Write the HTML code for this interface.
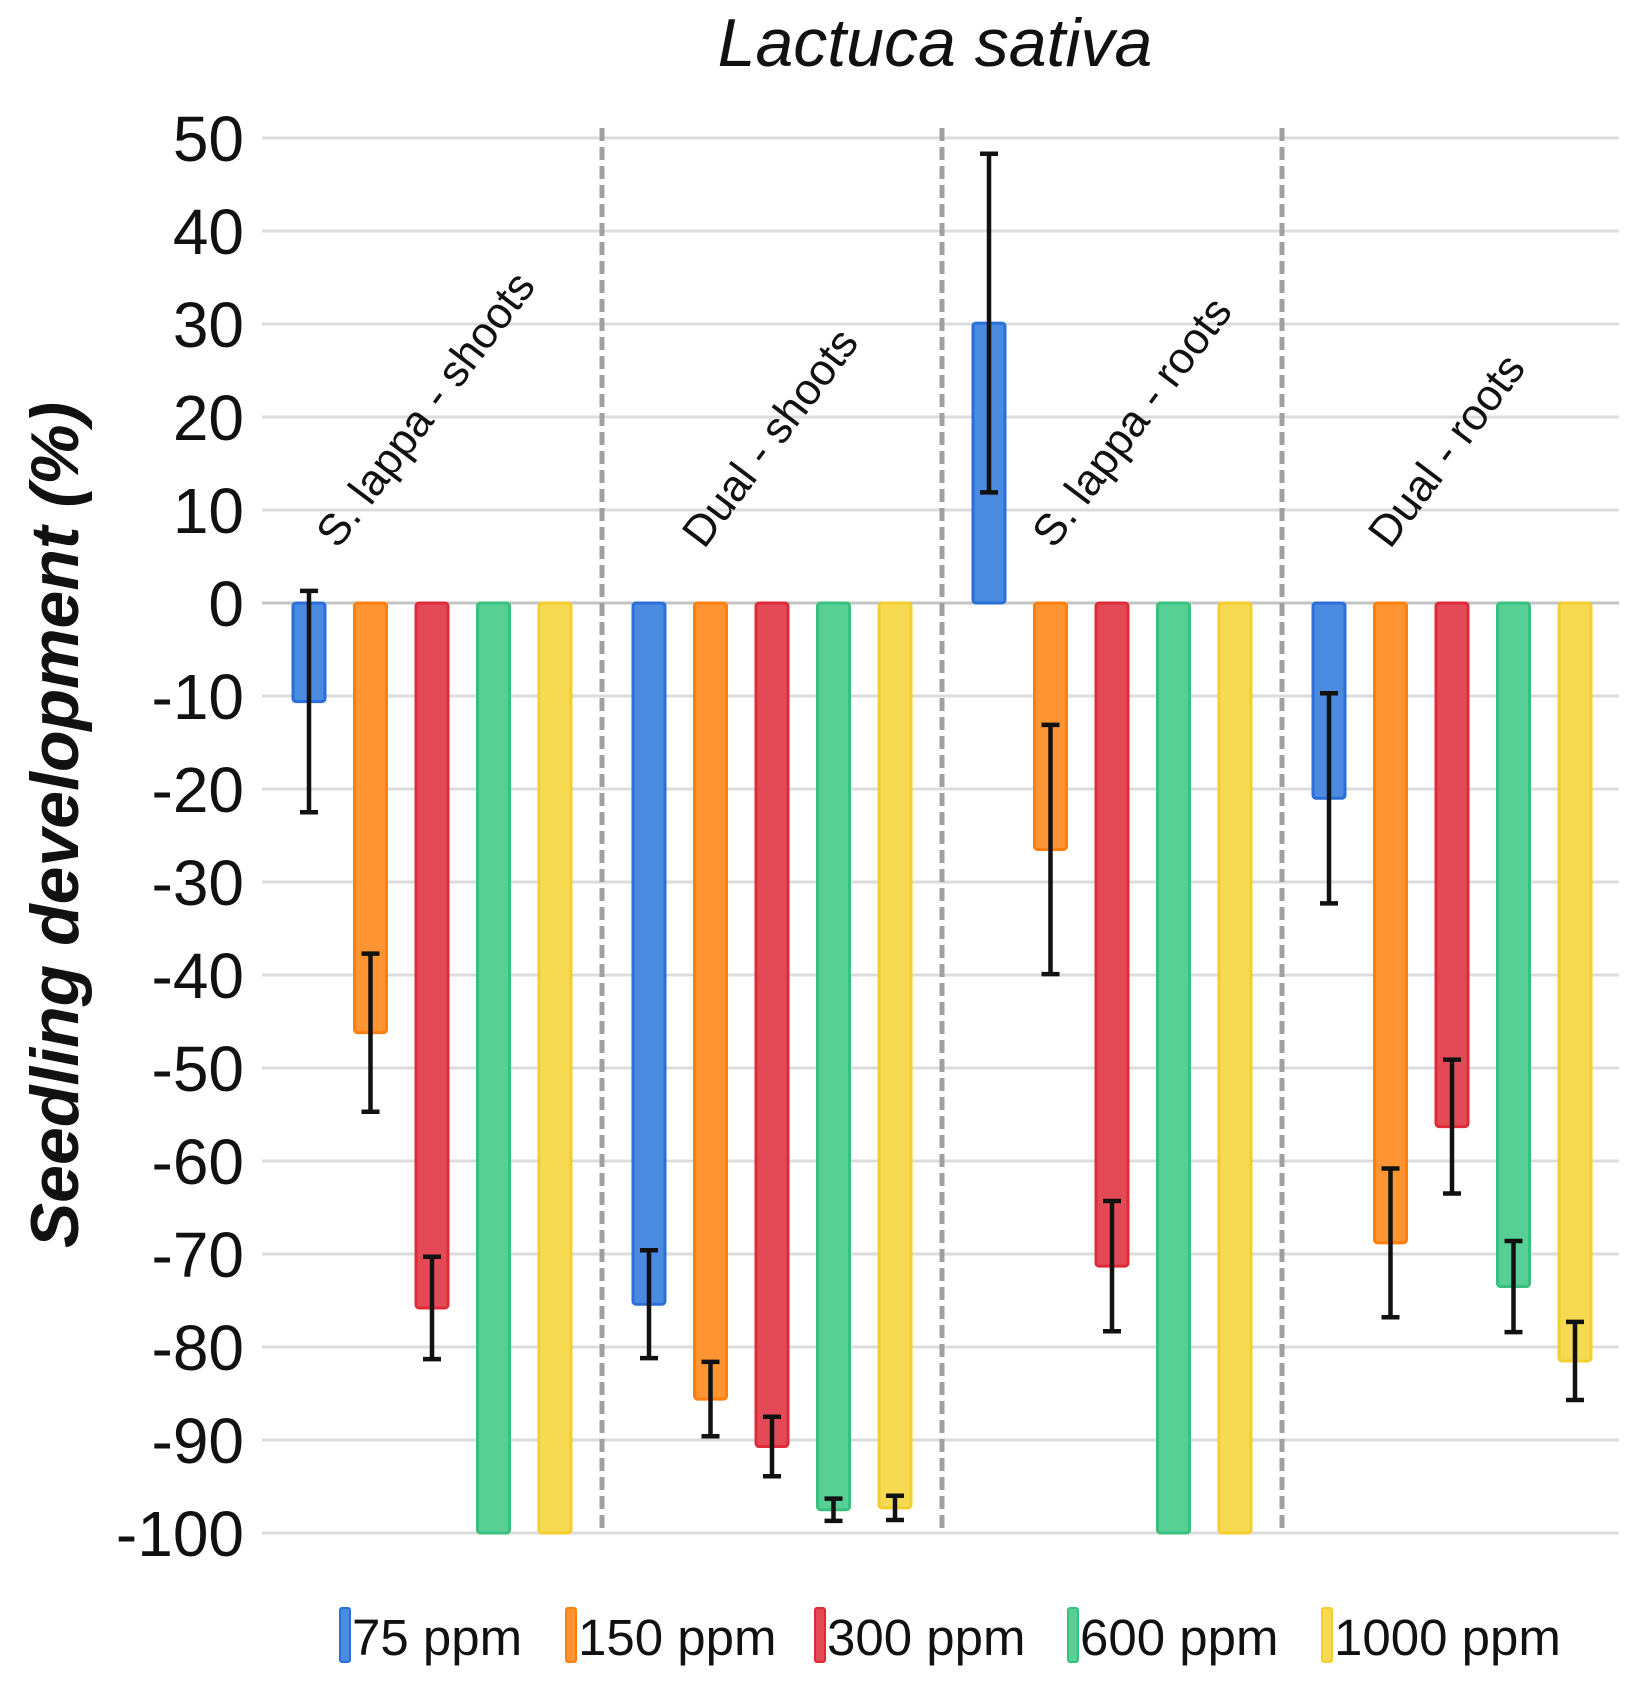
<!DOCTYPE html>
<html><head><meta charset="utf-8"><style>
html,body{margin:0;padding:0;background:#fff;}
svg{display:block;font-family:"Liberation Sans",Arial,sans-serif;}
</style></head><body>
<svg id="chart" width="1651" height="1699" viewBox="0 0 1651 1699">
<text x="935" y="66" font-size="68" font-style="italic" text-anchor="middle" fill="#111">Lactuca sativa</text>
<text transform="translate(78,825) rotate(-90)" font-size="68" font-weight="bold" font-style="italic" text-anchor="middle" fill="#111">Seedling development (%)</text>
<g id="grid"></g><g id="dividers"></g><g id="bars"></g><g id="errs"></g><g id="ylabels"></g><g id="catlabels"></g><g id="legend"></g>
</svg>
<script>
const groups = ["S. lappa - shoots","Dual - shoots","S. lappa - roots","Dual - roots"];
const series = ["75 ppm","150 ppm","300 ppm","600 ppm","1000 ppm"];
const ticks = [50,40,30,20,10,0,-10,-20,-30,-40,-50,-60,-70,-80,-90,-100];
const v75 = [-10.6, -75.4, 30.1, -21];
const v150 = [-46.2, -85.6, -26.5, -68.8];
const v300 = [-75.8, -90.7, -71.3, -56.3];
const v600 = [-100, -97.5, -100, -73.5];
const v1000 = [-100, -97.3, -100, -81.5];
const e75 = [11.9, 5.8, 18.2, 11.3];
const e150 = [8.5, 4, 13.4, 8];
const e300 = [5.5, 3.2, 7, 7.2];
const e600 = [0, 1.2, 0, 4.9];
const e1000 = [0, 1.3, 0, 4.2];
const values=[v75,v150,v300,v600,v1000], errs=[e75,e150,e300,e600,e1000];
const fills=["#4a8ae0","#ff9433","#e34a55","#57cf95","#f6da52"];
const strokes=["#2a70d8","#ff7f0e","#dd2b3a","#38c07f","#f2cf2e"];
const NS="http://www.w3.org/2000/svg";
const X0=262, GW=340, Y0=603, PPU=9.3;
const y=v=>Y0-v*PPU;
const bx=(g,i)=>X0+g*GW+47+i*61.5;
function mk(tag,attrs,parent){const e=document.createElementNS(NS,tag);for(const k in attrs)e.setAttribute(k,attrs[k]);document.getElementById(parent).appendChild(e);return e;}
ticks.forEach(t=>{
  const l=mk('line',{x1:X0,x2:1619,y1:y(t),y2:y(t),stroke:t===0?'#c4c4c4':'#dcdcdc','stroke-width':3},'grid');
  
  
  const tx=mk('text',{x:244,y:y(t)+23,'font-size':64,'text-anchor':'end',fill:'#111'},'ylabels');
  tx.textContent=t<0?'-'+Math.abs(t):String(t);
  
  
});
for(let g=1;g<groups.length;g++){
  const d=mk('line',{x1:X0+g*GW,x2:X0+g*GW,y1:y(50)-10,y2:y(-100),stroke:'#a0a0a0','stroke-width':5,'stroke-dasharray':'13 6'},'dividers');
  
  
}
const labOff=[76,102,112,108];
groups.forEach((gname,g)=>{
  const sx=X0+g*GW+labOff[g], sy=550;
  const t=mk('text',{transform:`translate(${sx},${sy}) rotate(-53)`,'font-size':44,fill:'#111'},'catlabels');
  t.textContent=gname;
  
  
  series.forEach((s,i)=>{
    const v=values[i][g], cx=bx(g,i);
    const top=Math.min(y(v),y(0)), h=Math.abs(y(v)-y(0));
    const r=mk('rect',{x:cx-16,y:top,width:32,height:h,fill:fills[i],stroke:strokes[i],'stroke-width':3,rx:3},'bars');
    
    
    const e=errs[i][g];
    if(e>0){
      const hi=y(v+e), lo=y(v-e);
      const p=mk('path',{d:`M${cx},${hi}V${lo}M${cx-9},${hi}H${cx+9}M${cx-9},${lo}H${cx+9}`,stroke:'#111','stroke-width':4.5,fill:'none'},'errs');
      
      
    }
  });
});
const legX=[340,566,815,1068,1322];
series.forEach((s,i)=>{
  const r=mk('rect',{x:legX[i],y:1608,width:10,height:54,fill:fills[i],stroke:strokes[i],'stroke-width':2,rx:2},'legend');
  
  
  const t=mk('text',{x:legX[i]+12,y:1655,'font-size':51,fill:'#111'},'legend');
  t.textContent=s;
  
  
});
</script>
</body></html>
